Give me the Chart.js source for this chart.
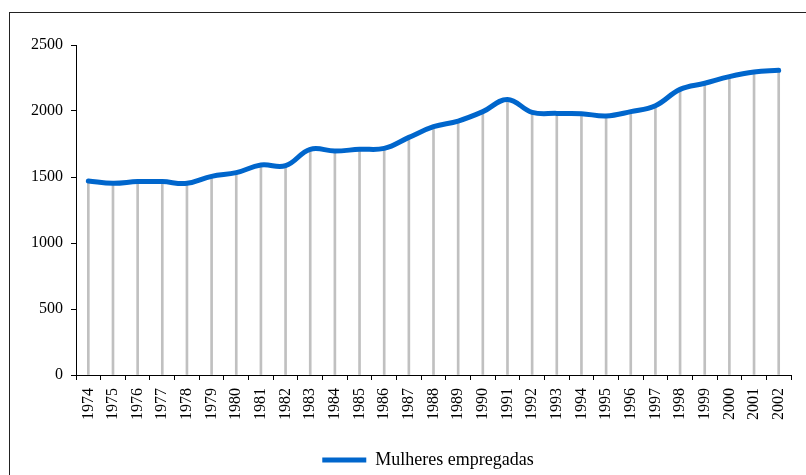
<!DOCTYPE html>
<html>
<head>
<meta charset="utf-8">
<script src="https://cdn.jsdelivr.net/npm/chart.js@4.4.0/dist/chart.umd.min.js"></script>
<style>
    body { margin: 0; width: 806px; height: 475px; overflow: hidden; background: #fff; position: relative; }
    #frame { position: absolute; left: 9px; top: 12px; width: 820px; height: 480px;
             border-left: 1.5px solid #222; border-top: 1.5px solid #222; }
    #mulheresChart { position: absolute; left: 0; top: 0; }
</style>
</head>
<body>
<div id="frame"></div>
<canvas id="mulheresChart" width="806" height="479"></canvas>
<script>
const anos = ['1974', '1975', '1976', '1977', '1978', '1979', '1980', '1981', '1982', '1983',
    '1984', '1985', '1986', '1987', '1988', '1989', '1990', '1991', '1992', '1993',
    '1994', '1995', '1996', '1997', '1998', '1999', '2000', '2001', '2002']
const mulheresEmpregadas = [1470, 1452, 1465, 1465, 1452, 1505, 1533, 1591, 1586, 1710,
    1697, 1710, 1717, 1800, 1881, 1924, 1995, 2088, 1990, 1982,
    1980, 1962, 1995, 2040, 2164, 2210, 2260, 2295, 2308]
const escalaY = [0, 500, 1000, 1500, 2000, 2500]

const fonte = { family: "'Liberation Serif', 'Times New Roman', serif", size: 16 }

// a legenda fica centrada a partir de x = 56 em vez da borda do canvas
const legendaDeslocada = {
    id: 'legendaDeslocada',
    afterLayout(chart){
        const leg = chart.legend
        if(leg){
            leg.left = 56
            leg.width = leg.right - leg.left
        }
    }
}

function drawChartMulheres(){
    let ctx = document.getElementById('mulheresChart').getContext('2d')

    const data = {
        labels: anos,
        datasets: [{
            type: 'line',
            label: 'Mulheres empregadas',
            data: mulheresEmpregadas,
            borderColor: '#0066cc',
            backgroundColor: '#0066cc',
            borderWidth: 5,
            borderCapStyle: 'round',
            pointRadius: 0,
            tension: 0.4,
            fill: false,
            order: 0
        }, {
            // linhas verticais de cada ano até o eixo
            type: 'bar',
            label: 'linhas',
            data: mulheresEmpregadas,
            backgroundColor: '#c0c0c0',
            barThickness: 2,
            order: 1
        }]
    }

    const config = {
        type: 'line',
        data,
        plugins: [legendaDeslocada],
        options: {
            responsive: false,
            animation: false,
            devicePixelRatio: 1,
            layout: { padding: { left: 28, right: 6, top: 45, bottom: 0 } },
            scales: {
                x: {
                    offset: true,
                    grid: { offset: true, drawOnChartArea: false, tickLength: 5, color: '#000' },
                    border: { color: '#000', width: 1 },
                    ticks: {
                        color: '#000', font: fonte, padding: 8,
                        minRotation: 90, maxRotation: 90, autoSkip: false
                    },
                    afterFit: s => { s.height = 66 }
                },
                y: {
                    min: escalaY[0],
                    max: escalaY[escalaY.length - 1],
                    grid: { drawOnChartArea: false, tickLength: 5, color: '#000' },
                    border: { color: '#000', width: 1 },
                    afterBuildTicks: s => { s.ticks = escalaY.map(v => ({ value: v })) },
                    ticks: { color: '#000', font: fonte, padding: 8, callback: v => String(v) },
                    afterFit: s => { s.width = 48 }
                }
            },
            plugins: {
                tooltip: { enabled: false },
                legend: {
                    position: 'bottom',
                    labels: {
                        filter: item => item.datasetIndex === 0,
                        usePointStyle: true,
                        pointStyle: 'line',
                        pointStyleWidth: 44,
                        boxHeight: 5,
                        color: '#000',
                        padding: 10,
                        font: { family: fonte.family, size: 18 }
                    }
                }
            }
        }
    }

    let chart = new Chart(ctx, config)
}

drawChartMulheres()
</script>
</body>
</html>
